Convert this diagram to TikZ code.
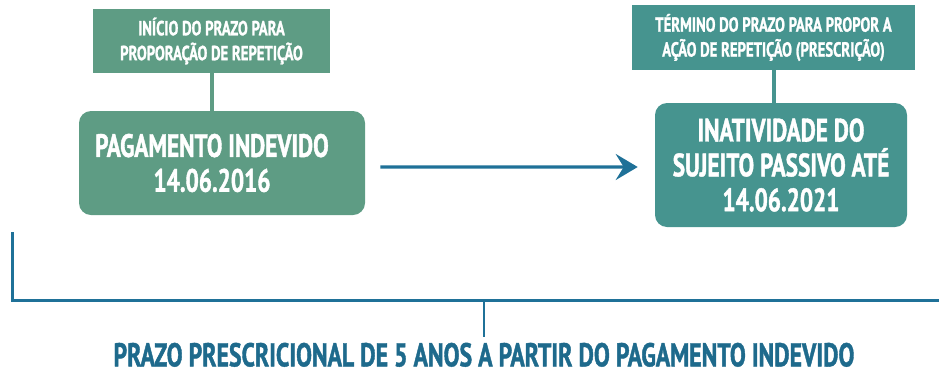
\documentclass[tikz,border=0pt]{standalone}
\usepackage{fontspec}
\setmainfont{PT Sans}[FakeStretch=0.72, BoldFeatures={FakeBold=1.2}]
\usepackage{tikz}
\usetikzlibrary{arrows.meta}
\definecolor{boxgreen}{HTML}{5E9C84}
\definecolor{boxteal}{HTML}{46948F}
\definecolor{lineblue}{HTML}{1F7198}
\definecolor{textblue}{HTML}{1E6A8C}

\begin{document}
\begin{tikzpicture}[
		topbox/.style={fill=#1, text=white, align=center, inner sep=0pt, font=\bfseries\fontsize{14.5}{17.7}\selectfont},
		mainbox/.style={fill=#1, text=white, align=center, inner sep=0pt, rounded corners=0.3cm, font=\bfseries\fontsize{23}{24.8}\selectfont},
		link/.style={draw=#1, line width=0.1cm}
	]
	\useasboundingbox (0,0) rectangle (23.475,-9.375);

	\node[topbox=boxgreen, minimum width=5.925cm, minimum height=1.6cm] (inicio) at (5.2875,-1.025) {INÍCIO DO PRAZO PARA\\PROPORAÇÃO DE REPETIÇÃO};
	\node[mainbox=boxgreen, minimum width=7.15cm, minimum height=2.6cm] (pagamento) at (5.55,-4.075) {PAGAMENTO INDEVIDO\hspace*{0.5cm}\\14.06.2016\hspace*{0.5cm}};

	\node[topbox=boxteal, minimum width=7.075cm, minimum height=1.625cm] (termino) at (19.3375,-0.9375) {TÉRMINO DO PRAZO PARA PROPOR A\\AÇÃO DE REPETIÇÃO (PRESCRIÇÃO)};
	\node[mainbox=boxteal, minimum width=6.3cm, minimum height=3.1cm] (inatividade) at (19.525,-4.125) {INATIVIDADE DO\\SUJEITO PASSIVO ATÉ\\14.06.2021};

	\draw[link=boxgreen] (inicio.south) -- (inicio.south |- pagamento.north);
	\draw[link=boxteal] (termino.south) -- (termino.south |- inatividade.north);

	\draw[-{Stealth[length=0.55cm, width=0.65cm, inset=0.2cm]}, color=lineblue, line width=0.08cm, shorten <=0.375cm, shorten >=0.425cm] ([yshift=-0.1cm]pagamento.east) -- ([yshift=-0.05cm]inatividade.west);

	% chave do prazo
	\coordinate (topo) at (0.3,-5.8);
	\coordinate (canto) at (0.3,-7.5);
	\coordinate (fim) at (23.475,-7.5);
	\node[text=textblue, font=\bfseries\fontsize{23.5}{26}\selectfont, inner sep=0pt] (prazo) at (12.1,-8.87) {PRAZO PRESCRICIONAL DE 5 ANOS A PARTIR DO PAGAMENTO INDEVIDO};
	\draw[color=lineblue, line width=0.075cm] (topo) -- (canto) -- (fim);
	\draw[color=lineblue, line width=0.05cm] (prazo.north |- canto) -- ([yshift=0.15cm]prazo.north);
\end{tikzpicture}
\end{document}
